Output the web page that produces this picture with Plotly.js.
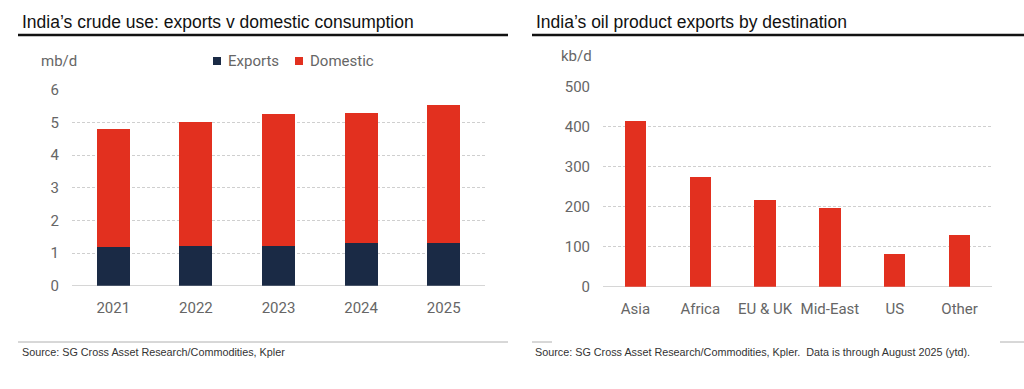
<!DOCTYPE html>
<html>
<head>
<meta charset="utf-8">
<script src="https://cdn.plot.ly/plotly-3.0.1.min.js"></script>
<style>
  html, body { margin: 0; padding: 0; background: #fff; }
  #chart { width: 1024px; height: 389px; }
</style>
</head>
<body>
<div id="chart"></div>
<script>
// Left chart: India's crude use (mb/d)
const years = ['2021', '2022', '2023', '2024', '2025'];
const exportsMbd = [1.19, 1.23, 1.23, 1.32, 1.32];
const domesticMbd = [3.61, 3.79, 4.02, 3.97, 4.20];
const seriesNames = ['Exports', 'Domestic'];

// Right chart: oil product exports by destination (kb/d)
const destinations = ['Asia', 'Africa', 'EU & UK', 'Mid-East', 'US', 'Other'];
const productExportsKbd = [415, 275, 218, 197, 83, 129];

const leftTicks = [0, 1, 2, 3, 4, 5, 6];
const rightTicks = [0, 100, 200, 300, 400, 500];

const RED = '#E2301F';
const NAVY = '#1A2A45';
const TICK_GREY = '#666666';
const tickFont = { family: 'Roboto, Arial, sans-serif', size: 15, color: TICK_GREY };
const titleFont = { family: 'Liberation Sans, Arial, sans-serif', size: 17.5, color: '#111' };
const srcFont = { family: 'Liberation Sans, Arial, sans-serif', size: 10.8, color: '#333' };

const W = 1024, H = 389;
const px = x => x / W;
const py = y => 1 - y / H;

const traces = [
  { type: 'bar', x: years, y: exportsMbd, name: seriesNames[0], marker: { color: NAVY },
    xaxis: 'x', yaxis: 'y', width: 0.4 },
  { type: 'bar', x: years, y: domesticMbd, name: seriesNames[1], marker: { color: RED },
    xaxis: 'x', yaxis: 'y', width: 0.4 },
  { type: 'bar', x: destinations, y: productExportsKbd, name: 'Product exports', marker: { color: RED },
    xaxis: 'x2', yaxis: 'y2', width: 0.33 }
];

const yCommon = {
  showgrid: true, gridcolor: '#cfcfcf', griddash: '3px,2px', gridwidth: 1,
  zeroline: true, zerolinecolor: '#d6d6d6', zerolinewidth: 1.5,
  showline: false, ticks: '', tickfont: tickFont, ticklabelstandoff: 12, fixedrange: true
};
const xCommon = {
  type: 'category', showgrid: false, zeroline: false, showline: false, ticks: '',
  tickfont: tickFont, ticklabelstandoff: 11, fixedrange: true
};

// manual legend (icons + labels) positioned like the reference
const legendItems = [
  { name: seriesNames[0], color: NAVY, boxX: 213, textX: 226 },
  { name: seriesNames[1], color: RED, boxX: 295, textX: 308 }
];
const legendY = 61;

const shapes = [
  { type: 'line', xref: 'paper', yref: 'paper', x0: px(18), x1: px(508), y0: py(35), y1: py(35), line: { color: '#111', width: 2.5 } },
  { type: 'line', xref: 'paper', yref: 'paper', x0: px(532), x1: px(1024), y0: py(35), y1: py(35), line: { color: '#111', width: 2.5 } },
  { type: 'line', xref: 'paper', yref: 'paper', x0: px(18), x1: px(508), y0: py(342), y1: py(342), line: { color: '#b0b0b0', width: 1 } },
  { type: 'line', xref: 'paper', yref: 'paper', x0: px(532), x1: px(552), y0: py(342), y1: py(342), line: { color: '#b0b0b0', width: 1 } },
  { type: 'line', xref: 'paper', yref: 'paper', x0: px(1000), x1: px(1024), y0: py(342), y1: py(342), line: { color: '#b0b0b0', width: 1 } }
];
const annotations = [
  { text: 'India\u2019s crude use: exports v domestic consumption', xref: 'paper', yref: 'paper',
    x: px(20), y: py(22), xanchor: 'left', yanchor: 'middle', showarrow: false, font: titleFont },
  { text: 'India\u2019s oil product exports by destination', xref: 'paper', yref: 'paper',
    x: px(534), y: py(22), xanchor: 'left', yanchor: 'middle', showarrow: false, font: titleFont },
  { text: 'mb/d', xref: 'paper', yref: 'paper', x: px(39), y: py(61), xanchor: 'left', yanchor: 'middle',
    showarrow: false, font: tickFont },
  { text: 'kb/d', xref: 'paper', yref: 'paper', x: px(559), y: py(56), xanchor: 'left', yanchor: 'middle',
    showarrow: false, font: tickFont },
  { text: 'Source: SG Cross Asset Research/Commodities, Kpler', xref: 'paper', yref: 'paper',
    x: px(20), y: py(352), xanchor: 'left', yanchor: 'middle', showarrow: false, font: srcFont },
  { text: 'Source: SG Cross Asset Research/Commodities, Kpler.  Data is through August 2025 (ytd).', xref: 'paper', yref: 'paper',
    x: px(533), y: py(352), xanchor: 'left', yanchor: 'middle', showarrow: false, font: srcFont }
];
legendItems.forEach(it => {
  shapes.push({ type: 'rect', xref: 'paper', yref: 'paper',
    x0: px(it.boxX), x1: px(it.boxX + 8), y0: py(legendY + 4), y1: py(legendY - 4),
    fillcolor: it.color, line: { width: 0 } });
  annotations.push({ text: it.name, xref: 'paper', yref: 'paper', x: px(it.textX), y: py(legendY),
    xanchor: 'left', yanchor: 'middle', showarrow: false,
    font: { family: 'Roboto, Arial, sans-serif', size: 15, color: TICK_GREY } });
});

const layout = {
  width: W, height: H, autosize: false,
  margin: { l: 0, r: 0, t: 0, b: 0, pad: 0 },
  paper_bgcolor: '#fff', plot_bgcolor: '#fff',
  barmode: 'stack',
  showlegend: false,
  font: { family: 'Roboto, Arial, sans-serif' },
  xaxis: Object.assign({}, xCommon, { domain: [px(72), px(485)], anchor: 'y' }),
  yaxis: Object.assign({}, yCommon, { domain: [py(285.7), py(89.8)], range: [0, 6], tickvals: leftTicks, anchor: 'x' }),
  xaxis2: Object.assign({}, xCommon, { domain: [px(603), px(992)], anchor: 'y2' }),
  yaxis2: Object.assign({}, yCommon, { domain: [py(286.7), py(86.7)], range: [0, 500], tickvals: rightTicks, anchor: 'x2' }),
  shapes: shapes,
  annotations: annotations
};

Plotly.newPlot('chart', traces, layout, { displayModeBar: false, staticPlot: true });
</script>
</body>
</html>
